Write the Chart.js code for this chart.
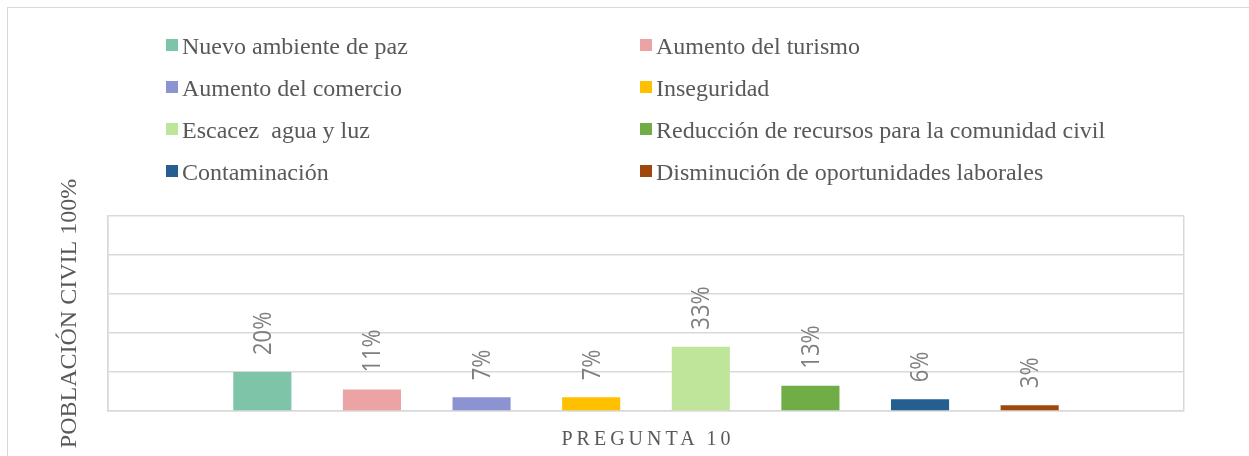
<!DOCTYPE html>
<html>
<head>
<meta charset="utf-8">
<script src="https://cdn.jsdelivr.net/npm/chart.js@4/dist/chart.umd.min.js"></script>
<style>
  html, body { margin: 0; padding: 0; background: #fff; overflow: hidden; }
  #wrap { position: relative; width: 1249px; height: 456px; }
  #frame { position: absolute; left: 7px; top: 7px; width: 1270px; height: 470px; border: 1px solid #d9d9d9; box-sizing: border-box; }
  #chartBox { position: absolute; left: 0; top: 0; width: 1249px; height: 456px; }
  .leg { position: absolute; height: 24px; line-height: 24px; font: 24px "Liberation Serif", serif; color: #595959; white-space: pre; }
  .leg i { position: absolute; left: 0; top: 6px; width: 12px; height: 12px; }
  .leg span { position: absolute; left: 16px; top: 0; }
  #xTitle { position: absolute; top: 427px; height: 20px; line-height: 20px; font: 20px "Liberation Serif", serif; color: #595959; letter-spacing: 4px; white-space: pre; }
</style>
</head>
<body>
<div id="wrap">
  <div id="frame"></div>
  <div id="chartBox"><canvas id="answersChart"></canvas></div>
  <div id="legend"></div>
  <div id="xTitle"></div>
</div>
<script>
const categories = ["PREGUNTA 10"]

const seriesNames = [
    "Nuevo ambiente de paz",
    "Aumento del turismo",
    "Aumento del comercio",
    "Inseguridad",
    "Escacez  agua y luz",
    "Reducción de recursos para la comunidad civil",
    "Contaminación",
    "Disminución de oportunidades laborales"
]

const seriesValues = [20, 11, 7, 7, 33, 13, 6, 3]

const seriesColors = ["#7DC4A8", "#ECA3A3", "#8B93D1", "#FFC000", "#BEE59A", "#70AD47", "#255E91", "#9E480E"]

const yTicks = [0, 20, 40, 60, 80, 100]

const yTitle = "POBLACIÓN CIVIL 100%"

// rotated % labels above each bar
const barLabels = {
    id: "barLabels",
    afterDatasetsDraw(chart) {
        const ctx = chart.ctx
        chart.data.datasets.forEach((ds, i) => {
            chart.getDatasetMeta(i).data.forEach((bar, j) => {
                ctx.save()
                ctx.font = '22px "Open Sans", sans-serif'
                ctx.fillStyle = "#7f7f7f"
                ctx.textAlign = "left"
                ctx.textBaseline = "middle"
                ctx.translate(bar.x + 1, bar.y - 17)
                ctx.rotate(-Math.PI / 2)
                ctx.scale(1, 1.18)
                ctx.fillText(ds.data[j] + "%", 0, 0)
                ctx.restore()
            })
        })
    }
}

let datasets = []

seriesNames.forEach((name, i) => {
    datasets.push({
        label: name,
        data: [seriesValues[i]],
        backgroundColor: seriesColors[i],
        categoryPercentage: 0.815,
        barPercentage: 0.53
    })
})

const chart = new Chart(document.getElementById("answersChart"), {
    type: "bar",
    data: {
        labels: categories,
        datasets: datasets
    },
    options: {
        responsive: true,
        maintainAspectRatio: false,
        animation: false,
        layout: { padding: { left: 50, right: 65, top: 216, bottom: 45 } },
        plugins: {
            legend: { display: false },
            tooltip: { enabled: false }
        },
        scales: {
            x: {
                ticks: { display: false },
                grid: { color: "#d9d9d9", lineWidth: 1.5, drawTicks: false },
                border: { color: "#d9d9d9", width: 1.5 }
            },
            y: {
                min: yTicks[0],
                max: yTicks[yTicks.length - 1],
                afterBuildTicks: scale => { scale.ticks = yTicks.map(v => ({ value: v })) },
                ticks: { display: false },
                grid: { color: "#d9d9d9", lineWidth: 1.5, drawTicks: false },
                border: { color: "#d9d9d9", width: 1.5 },
                title: {
                    display: true,
                    text: yTitle,
                    color: "#595959",
                    font: { family: "Liberation Serif", size: 24 },
                    padding: { top: 5.6, bottom: 23.6 }
                }
            }
        }
    },
    plugins: [barLabels]
})

// legend in two columns, built from the series arrays
const legend = document.getElementById("legend")
const colX = [166, 640]

seriesNames.forEach((name, i) => {
    const item = document.createElement("div")
    item.className = "leg"
    item.style.left = colX[i % 2] + "px"
    item.style.top = (33 + 42 * Math.floor(i / 2)) + "px"
    item.innerHTML = '<i style="background:' + seriesColors[i] + '"></i><span></span>'
    item.querySelector("span").textContent = name
    legend.appendChild(item)
})

// x axis caption, letter spaced like the original
const xTitle = document.getElementById("xTitle")
xTitle.textContent = categories[0]
const area = chart.chartArea
const w = xTitle.offsetWidth - 4
xTitle.style.left = ((area.left + area.right) / 2 - w / 2) + "px"
</script>
</body>
</html>
